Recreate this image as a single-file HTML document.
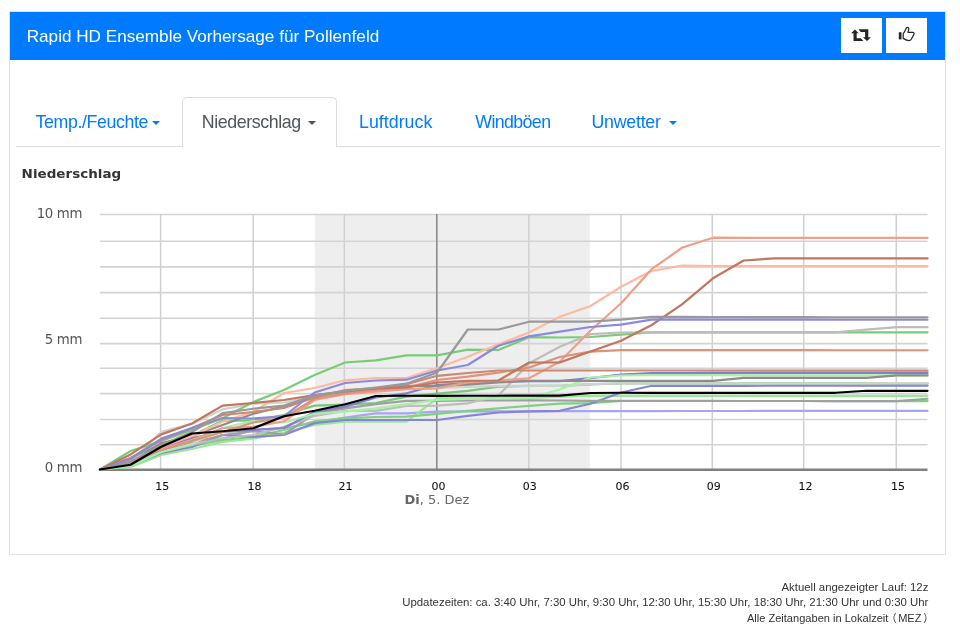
<!DOCTYPE html>
<html lang="de"><head><meta charset="utf-8"><title>Rapid HD Ensemble Vorhersage für Pollenfeld</title>
<style>
html,body{margin:0;padding:0;background:#fff;}
body{width:960px;height:641px;position:relative;overflow:hidden;font-family:"Liberation Sans",sans-serif;color:#333;}
.panel{position:absolute;left:9px;top:11px;width:934.9px;height:541.5px;border:1.2px solid #e0e0e0;background:#fff;box-sizing:content-box;}
.head{position:absolute;left:9.5px;top:11.5px;width:935.8px;height:48.8px;background:#007bff;}
.head .title{position:absolute;left:17.2px;top:0;line-height:49.3px;font-size:17.15px;color:#fff;white-space:nowrap;}
.btn{position:absolute;top:6.4px;width:40.7px;height:35.5px;background:#fff;}
.tabline{position:absolute;left:16px;top:146px;width:924px;height:1.3px;background:#dedede;}
.tab{position:absolute;top:112.3px;font-size:17.8px;letter-spacing:-0.39px;line-height:20px;color:#007bff;white-space:nowrap;}
.tab.active{color:#4f555b;}
.tabbox{position:absolute;left:182.1px;top:96.5px;width:154.9px;height:50.8px;border:1.2px solid #dcdcdc;border-bottom:none;border-radius:5px 5px 0 0;background:#fff;box-sizing:border-box;}
.caret{position:absolute;width:0;height:0;border-left:4.9px solid transparent;border-right:4.9px solid transparent;border-top:4.9px solid #007bff;top:121px;}
.pl,.pr{font-size:10.4px}.pl{margin-left:-2.2px;margin-right:1.6px}.pr{margin-left:1.8px;margin-right:-5.3px}
.foot{position:absolute;right:31.6px;text-align:right;font-size:11.4px;line-height:15.7px;color:#333;white-space:nowrap;font-family:"Liberation Sans","Noto Sans CJK SC",sans-serif;}
</style></head><body>
<div class="panel"></div>
<div class="head"><div class="title">Rapid HD Ensemble Vorhersage für Pollenfeld</div>
<div class="btn" style="left:831.7px"><svg width="41" height="36" viewBox="0 0 41 36" style="position:absolute;left:0;top:0"><g fill="#262626"><path d="M14.0 11.5 L17.7 15.3 L15.7 15.3 L15.7 20.2 L19.9 20.2 L22.4 22.9 L12.5 22.9 L12.5 15.3 L10.0 15.3 Z"/><path d="M26.0 23.0 L21.9 19.2 L24.1 19.2 L24.1 13.9 L19.8 13.9 L17.4 11.2 L27.3 11.2 L27.3 19.2 L30.0 19.2 Z"/></g></svg></div>
<div class="btn" style="left:876.5px"><svg width="41" height="36" viewBox="0 0 41 36" style="position:absolute;left:0;top:0"><rect x="12.8" y="14.2" width="2.7" height="7.2" fill="#262626"/><path d="M17.2 15.6 C18.6 14.2 19.6 11.8 20.4 9.9 C20.9 8.9 22.8 9.2 22.8 10.7 C22.8 12 22.3 13.2 22 14.3 L26.6 14.3 C28 14.3 28.4 15.4 27.8 16.6 L25.4 21 C24.8 22.2 24 22.6 22.8 22.6 C21 22.6 19.4 21.8 17.2 20.4 Z" fill="none" stroke="#262626" stroke-width="1.25" stroke-linejoin="round"/></svg></div>
</div>
<div class="tabline"></div>
<div class="tabbox"></div>
<div class="tab" style="left:35.5px">Temp./Feuchte</div><div class="caret" style="left:151.6px"></div>
<div class="tab active" style="left:201.7px">Niederschlag</div><div class="caret" style="left:307.6px;border-top-color:#4f555b"></div>
<div class="tab" style="left:359px;letter-spacing:0.02px">Luftdruck</div>
<div class="tab" style="left:475.3px;letter-spacing:-0.62px">Windböen</div>
<div class="tab" style="left:591.5px;letter-spacing:-0.25px">Unwetter</div><div class="caret" style="left:668.7px"></div>
<svg id="chart" width="940" height="380" viewBox="0 160 940 380" style="position:absolute;left:0;top:160px">
<rect x="314.8" y="214" width="275" height="255.5" fill="#eeeeee"/>
<line x1="160.6" y1="214" x2="160.6" y2="469" stroke="#d0d0d0" stroke-width="1.5"/>
<line x1="253.2" y1="214" x2="253.2" y2="469" stroke="#d0d0d0" stroke-width="1.5"/>
<line x1="344.3" y1="214" x2="344.3" y2="469" stroke="#d0d0d0" stroke-width="1.5"/>
<line x1="528.8" y1="214" x2="528.8" y2="469" stroke="#d0d0d0" stroke-width="1.5"/>
<line x1="621.0" y1="214" x2="621.0" y2="469" stroke="#d0d0d0" stroke-width="1.5"/>
<line x1="712.3" y1="214" x2="712.3" y2="469" stroke="#d0d0d0" stroke-width="1.5"/>
<line x1="803.7" y1="214" x2="803.7" y2="469" stroke="#d0d0d0" stroke-width="1.5"/>
<line x1="896.3" y1="214" x2="896.3" y2="469" stroke="#d0d0d0" stroke-width="1.5"/>
<line x1="100" y1="214.5" x2="927.5" y2="214.5" stroke="#d3d3d3" stroke-width="1.6"/>
<line x1="100" y1="241.3" x2="927.5" y2="241.3" stroke="#d3d3d3" stroke-width="1.6"/>
<line x1="100" y1="266.9" x2="927.5" y2="266.9" stroke="#d3d3d3" stroke-width="1.6"/>
<line x1="100" y1="292.6" x2="927.5" y2="292.6" stroke="#d3d3d3" stroke-width="1.6"/>
<line x1="100" y1="318.2" x2="927.5" y2="318.2" stroke="#d3d3d3" stroke-width="1.6"/>
<line x1="100" y1="343.6" x2="927.5" y2="343.6" stroke="#d3d3d3" stroke-width="1.6"/>
<line x1="100" y1="368.3" x2="927.5" y2="368.3" stroke="#d3d3d3" stroke-width="1.6"/>
<line x1="100" y1="393.6" x2="927.5" y2="393.6" stroke="#d3d3d3" stroke-width="1.6"/>
<line x1="100" y1="419.5" x2="927.5" y2="419.5" stroke="#d3d3d3" stroke-width="1.6"/>
<line x1="100" y1="444.7" x2="927.5" y2="444.7" stroke="#d3d3d3" stroke-width="1.6"/>
<line x1="436.8" y1="214" x2="436.8" y2="469" stroke="#8c8c8c" stroke-width="1.6"/>
<line x1="99.5" y1="469.7" x2="927.5" y2="469.7" stroke="#808080" stroke-width="2.4"/>
<g fill="none" stroke-linejoin="round" stroke-linecap="round">
<polyline points="100.0,469.5 130.65,465 161.3,452 191.95,446 222.6,439 253.25,430 283.9,428 314.55,422.5 345.2,417.5 375.85,413.3 406.5,413.3 437.15,411.7 467.8,411.3 498.45,411.3 529.1,411.3 559.75,411.2 590.4,411.2 621.05,411.2 651.7,411.1 682.35,411 713.0,411 743.65,411 774.3,410.9 804.95,410.9 835.6,410.9 866.25,410.9 896.9,410.9 927.55,410.9" stroke="#a5a5f2" stroke-width="2.2"/>
<polyline points="100.0,469.5 130.65,467 161.3,454.9 191.95,449 222.6,441.9 253.25,438.75 283.9,432.5 314.55,425 345.2,421.7 375.85,421.7 406.5,421.7 437.15,398.3 467.8,398.3 498.45,398.3 529.1,398 559.75,396.7 590.4,395.7 621.05,395.8 651.7,395.8 682.35,395.8 713.0,395.8 743.65,395.8 774.3,395.8 804.95,395.8 835.6,395.8 866.25,395.8 896.9,395.8 927.55,395.8" stroke="#98e898" stroke-width="2.2"/>
<polyline points="100.0,469.5 130.65,466 161.3,453 191.95,446 222.6,440 253.25,437 283.9,430 314.55,421.25 345.2,418.3 375.85,417 406.5,416.7 437.15,413.8 467.8,410.8 498.45,408.3 529.1,405.8 559.75,403.7 590.4,403.2 621.05,401 651.7,401 682.35,401 713.0,401 743.65,401 774.3,401 804.95,401 835.6,401.1 866.25,401.1 896.9,401.1 927.55,401.1" stroke="#80d080" stroke-width="2.2"/>
<polyline points="100.0,469.5 130.65,458 161.3,444 191.95,436 222.6,420.6 253.25,420.6 283.9,415 314.55,405.6 345.2,404.7 375.85,403 406.5,396.7 437.15,393.7 467.8,390.8 498.45,386.7 529.1,385.8 559.75,385.8 590.4,384.3 621.05,383.4 651.7,383.4 682.35,383.4 713.0,383.4 743.65,383.4 774.3,383.4 804.95,383.4 835.6,383.4 866.25,383.4 896.9,383.4 927.55,383.4" stroke="#78c878" stroke-width="2.2"/>
<polyline points="100.0,469.5 130.65,465 161.3,453 191.95,447 222.6,435 253.25,436.9 283.9,435 314.55,423.1 345.2,420 375.85,420 406.5,420 437.15,420 467.8,415.8 498.45,412.5 529.1,411.3 559.75,410.8 590.4,403.8 621.05,392.5 651.7,385.8 682.35,385.8 713.0,385.8 743.65,385.8 774.3,385.7 804.95,385.7 835.6,385.7 866.25,385.7 896.9,385.7 927.55,385.7" stroke="#8585d5" stroke-width="2.2"/>
<polyline points="100.0,469.5 130.65,461 161.3,431.9 191.95,423.7 222.6,409.4 253.25,403.75 283.9,402.5 314.55,395.6 345.2,393 375.85,391 406.5,389 437.15,388 467.8,387 498.45,385.8 529.1,385.8 559.75,385.8 590.4,384.2 621.05,383.3 651.7,383.3 682.35,383.3 713.0,383.3 743.65,383.3 774.3,383.3 804.95,383.3 835.6,383.3 866.25,383.3 896.9,383.2 927.55,383.2" stroke="#cdd3cd" stroke-width="2.2"/>
<polyline points="100.0,469.5 130.65,464 161.3,451 191.95,443 222.6,435 253.25,431.25 283.9,434.4 314.55,413.75 345.2,408.3 375.85,404.2 406.5,400.8 437.15,400.8 467.8,400.5 498.45,400.3 529.1,400.3 559.75,400.5 590.4,400.8 621.05,400.8 651.7,400.8 682.35,400.8 713.0,400.9 743.65,401 774.3,401 804.95,401 835.6,401.1 866.25,401.1 896.9,401.1 927.55,398.75" stroke="#a0a0a0" stroke-width="2.2"/>
<polyline points="100.0,469.5 130.65,451 161.3,441 191.95,430 222.6,418.3 253.25,402 283.9,390 314.55,375 345.2,362.5 375.85,360.3 406.5,355.3 437.15,355.3 467.8,349.7 498.45,350 529.1,337.2 559.75,337.5 590.4,337 621.05,334.7 651.7,332.3 682.35,332.3 713.0,332.3 743.65,332.3 774.3,332.3 804.95,332.3 835.6,332.3 866.25,332.3 896.9,332.3 927.55,332.3" stroke="#78cc78" stroke-width="2.2"/>
<polyline points="100.0,469.5 130.65,463 161.3,452 191.95,445 222.6,438 253.25,435 283.9,426.9 314.55,416 345.2,410.8 375.85,410.8 406.5,405.8 437.15,405.6 467.8,403.3 498.45,395.6 529.1,363.3 559.75,346.7 590.4,334.2 621.05,332.5 651.7,332.3 682.35,332.3 713.0,332.3 743.65,332.3 774.3,332.3 804.95,332.3 835.6,332.3 866.25,329.7 896.9,327.1 927.55,327.1" stroke="#bdbdbd" stroke-width="2.2"/>
<polyline points="100.0,469.5 130.65,463 161.3,448 191.95,438 222.6,432 253.25,430 283.9,428 314.55,412 345.2,406.7 375.85,397.5 406.5,393.3 437.15,385 467.8,383 498.45,381.6 529.1,381.2 559.75,381.2 590.4,378.2 621.05,374.7 651.7,373 682.35,373 713.0,373 743.65,373 774.3,372.9 804.95,372.9 835.6,372.9 866.25,372.9 896.9,372.9 927.55,372.9" stroke="#8080cc" stroke-width="2.2"/>
<polyline points="100.0,469.5 130.65,466 161.3,452 191.95,444 222.6,428 253.25,421 283.9,422.5 314.55,413.75 345.2,411.7 375.85,408.3 406.5,404.2 437.15,400 467.8,399 498.45,398.5 529.1,398 559.75,389.5 590.4,377.5 621.05,375.5 651.7,375.2 682.35,375.2 713.0,375.2 743.65,375.3 774.3,375.3 804.95,375.4 835.6,375.4 866.25,375.4 896.9,375.4 927.55,375.4" stroke="#a8f0a8" stroke-width="2.2"/>
<polyline points="100.0,469.5 130.65,462 161.3,443 191.95,436 222.6,425 253.25,413.75 283.9,406.3 314.55,396 345.2,391.7 375.85,388.3 406.5,385.8 437.15,385.8 467.8,384.7 498.45,382.5 529.1,380.8 559.75,380.8 590.4,380.8 621.05,380.8 651.7,380.8 682.35,380.8 713.0,380.8 743.65,377.9 774.3,377.9 804.95,377.9 835.6,377.9 866.25,377.9 896.9,375.4 927.55,375.4" stroke="#8c8c8c" stroke-width="2.2"/>
<polyline points="100.0,469.5 130.65,460 161.3,447 191.95,436 222.6,421.7 253.25,411.7 283.9,393 314.55,388 345.2,380.3 375.85,378 406.5,378 437.15,368 467.8,356.7 498.45,344.2 529.1,332.5 559.75,316.7 590.4,306 621.05,286.7 651.7,270.8 682.35,265.5 713.0,266 743.65,266 774.3,266 804.95,266 835.6,266 866.25,266 896.9,266 927.55,266" stroke="#ffb9a2" stroke-width="2.2"/>
<polyline points="100.0,469.5 130.65,461 161.3,449 191.95,440 222.6,428 253.25,426.9 283.9,421.25 314.55,400 345.2,394.2 375.85,391.7 406.5,389.2 437.15,388.3 467.8,382.5 498.45,380.5 529.1,378.3 559.75,361.7 590.4,330.8 621.05,303.3 651.7,269.2 682.35,247.5 713.0,237.7 743.65,237.8 774.3,237.9 804.95,237.9 835.6,237.9 866.25,237.9 896.9,237.9 927.55,237.9" stroke="#ee9f87" stroke-width="2.2"/>
<polyline points="100.0,469.5 130.65,462 161.3,450 191.95,441 222.6,432 253.25,422.5 283.9,417.5 314.55,398.75 345.2,393.3 375.85,390 406.5,387.5 437.15,380 467.8,376.7 498.45,372.6 529.1,367.5 559.75,357 590.4,351.7 621.05,350.2 651.7,350.2 682.35,350.2 713.0,350.2 743.65,350.2 774.3,350.2 804.95,350.2 835.6,350.25 866.25,350.25 896.9,350.25 927.55,350.25" stroke="#e0917a" stroke-width="2.2"/>
<polyline points="100.0,469.5 130.65,458 161.3,440 191.95,428 222.6,415 253.25,412 283.9,408 314.55,397.5 345.2,390 375.85,388.3 406.5,384.2 437.15,375.8 467.8,373 498.45,370.5 529.1,370.5 559.75,370.5 590.4,370.5 621.05,370.5 651.7,370.5 682.35,370.5 713.0,370.6 743.65,370.6 774.3,370.7 804.95,370.7 835.6,370.7 866.25,370.7 896.9,370.7 927.55,370.7" stroke="#cc8870" stroke-width="2.2"/>
<polyline points="100.0,469.5 130.65,454.4 161.3,434.4 191.95,423.5 222.6,405.6 253.25,403 283.9,400 314.55,395 345.2,391.5 375.85,388.5 406.5,387.5 437.15,382.5 467.8,380.8 498.45,380.5 529.1,362.5 559.75,362.5 590.4,351.5 621.05,340.8 651.7,325 682.35,304.2 713.0,278.3 743.65,260.5 774.3,258.3 804.95,258.3 835.6,258.3 866.25,258.3 896.9,258.3 927.55,258.3" stroke="#c0775e" stroke-width="2.2"/>
<polyline points="100.0,469.5 130.65,459 161.3,438.6 191.95,428 222.6,418 253.25,418.5 283.9,416.25 314.55,392.5 345.2,383 375.85,380.5 406.5,379.7 437.15,370.5 467.8,365 498.45,345.8 529.1,336.3 559.75,331.7 590.4,327 621.05,324.7 651.7,319.7 682.35,319.7 713.0,319.7 743.65,319.7 774.3,319.7 804.95,319.7 835.6,319.75 866.25,319.75 896.9,319.75 927.55,319.75" stroke="#8a8add" stroke-width="2.2"/>
<polyline points="100.0,469.5 130.65,462 161.3,445 191.95,432 222.6,413.1 253.25,408.75 283.9,405.6 314.55,395.6 345.2,390.8 375.85,387.5 406.5,383.7 437.15,372.5 467.8,329.5 498.45,329.5 529.1,321.7 559.75,321.7 590.4,321.7 621.05,319.7 651.7,316.9 682.35,316.9 713.0,317 743.65,317 774.3,317.1 804.95,317.2 835.6,317.25 866.25,317.25 896.9,317.25 927.55,317.25" stroke="#999999" stroke-width="2.2"/>
<polyline points="100.0,469.5 130.65,464.8 161.3,446.7 191.95,433.5 222.6,431.2 253.25,428.3 283.9,416.3 314.55,410.8 345.2,404.2 375.85,396 406.5,395.8 437.15,395.8 467.8,395.7 498.45,395.7 529.1,395.6 559.75,395.6 590.4,393 621.05,392.8 651.7,392.8 682.35,392.8 713.0,392.8 743.65,392.8 774.3,392.8 804.95,392.8 835.6,392.8 866.25,390.8 896.9,390.8 927.55,390.8" stroke="#000000" stroke-width="2.15"/>
</g>
<g font-family="'DejaVu Sans','Liberation Sans',sans-serif" font-size="13.3" letter-spacing="-0.35" fill="#555555" text-anchor="end">
<text x="82" y="217.5">10 mm</text>
<text x="82" y="344.1">5 mm</text>
<text x="82" y="471.9">0 mm</text>
</g>
<g font-family="'DejaVu Sans','Liberation Sans',sans-serif" font-size="11" fill="#111111" stroke="#111111" stroke-width="0.08" text-anchor="middle">
<text x="162.3" y="490.3">15</text>
<text x="254.6" y="490.3">18</text>
<text x="345.6" y="490.3">21</text>
<text x="438.5" y="490.3">00</text>
<text x="529.8" y="490.3">03</text>
<text x="622.5" y="490.3">06</text>
<text x="713.8" y="490.3">09</text>
<text x="805.4" y="490.3">12</text>
<text x="898" y="490.3">15</text>
</g>
<text x="437" y="504" text-anchor="middle" font-family="'DejaVu Sans','Liberation Sans',sans-serif" font-size="13" fill="#666666"><tspan font-weight="bold">Di</tspan>, 5. Dez</text>
<text transform="translate(21.6,177.8) scale(1.125,1)" x="0" y="0" font-family="'DejaVu Sans','Liberation Sans',sans-serif" font-size="12" font-weight="bold" fill="#333333">Niederschlag</text>
</svg>
<div class="foot" style="top:580px">Aktuell angezeigter Lauf: 12z</div>
<div class="foot" style="top:595.3px">Updatezeiten: ca. 3:40 Uhr, 7:30 Uhr, 9:30 Uhr, 12:30 Uhr, 15:30 Uhr, 18:30 Uhr, 21:30 Uhr und 0:30 Uhr</div>
<div class="foot" style="top:611.3px;font-size:11.07px">Alle Zeitangaben in Lokalzeit<span class="pl">（</span>MEZ<span class="pr">）</span></div>
</body></html>
